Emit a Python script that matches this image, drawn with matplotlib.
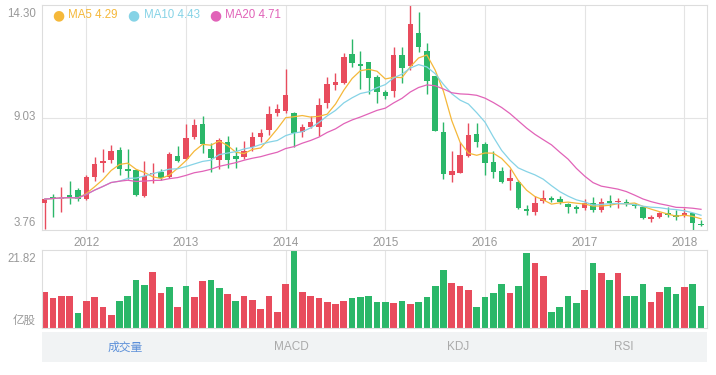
import matplotlib
matplotlib.use('Agg')
import matplotlib.pyplot as plt
import numpy as np
import pandas as pd

plt.rcParams['font.family'] = ['Liberation Sans', 'Noto Sans CJK SC', 'DejaVu Sans']

# ---------------- data ----------------
months = [str(p) for p in pd.period_range('2011-08', '2018-03', freq='M')]

opens = [5.01, 5.32, 5.20, 5.38, 5.63, 5.21, 6.23, 6.88, 7.04, 7.49,
         6.62, 6.58, 5.37, 6.38, 6.49, 6.26, 7.23, 7.07, 8.10, 8.74,
         7.55, 7.04, 7.87, 7.24, 7.19, 7.63, 8.10, 8.44, 9.23, 9.33,
         9.25, 8.37, 8.60, 8.60, 9.72, 10.55, 10.66, 12.00, 11.54, 11.62,
         10.94, 10.21, 10.27, 11.96, 11.44, 12.97, 12.16, 10.97, 8.34, 6.34,
         6.44, 7.23, 8.26, 7.79, 6.96, 6.54, 6.07, 6.02, 4.74, 4.62,
         5.13, 5.24, 5.20, 4.98, 4.82, 4.78, 5.04, 4.70, 5.13, 5.07,
         5.09, 4.96, 4.82, 4.29, 4.38, 4.54, 4.48, 4.46, 4.54, 4.04]

closes = [5.21, 5.26, 5.32, 5.32, 5.20, 6.23, 6.85, 7.01, 7.46, 6.60,
          6.54, 5.40, 6.28, 6.44, 6.21, 7.32, 7.01, 8.06, 8.68, 7.79,
          7.12, 7.98, 7.04, 7.09, 7.47, 8.10, 8.32, 9.19, 9.43, 10.07,
          8.32, 8.60, 8.83, 9.60, 10.58, 10.68, 11.85, 11.57, 11.44, 10.89,
          10.24, 10.04, 11.96, 11.36, 13.41, 12.32, 10.75, 8.41, 6.38, 6.54,
          7.26, 8.22, 7.90, 6.92, 6.49, 6.02, 6.18, 4.78, 4.66, 5.01,
          5.24, 5.17, 5.09, 4.82, 4.76, 5.04, 4.70, 5.09, 5.01, 5.13,
          5.01, 4.88, 4.31, 4.35, 4.54, 4.46, 4.38, 4.54, 4.07, 3.98]

highs = [5.25, 5.43, 5.79, 6.06, 5.71, 6.34, 7.19, 7.56, 7.74, 7.66,
         7.56, 6.62, 6.99, 6.88, 6.60, 7.43, 7.69, 8.73, 8.95, 9.10,
         7.82, 8.06, 8.16, 7.66, 7.93, 8.37, 8.48, 9.57, 9.66, 11.29,
         9.30, 8.73, 9.10, 9.93, 10.94, 11.13, 12.07, 12.69, 12.16, 11.64,
         11.02, 10.32, 12.35, 12.35, 14.30, 13.96, 12.53, 10.97, 8.83, 7.47,
         7.90, 8.79, 8.76, 7.88, 7.47, 6.69, 6.60, 6.10, 4.93, 5.35,
         5.63, 5.35, 5.35, 5.01, 4.93, 5.20, 5.29, 5.24, 5.40, 5.24,
         5.20, 5.04, 4.88, 4.46, 4.62, 4.85, 4.70, 4.78, 4.57, 4.23]

lows = [3.79, 4.38, 4.62, 4.98, 5.13, 5.17, 6.06, 6.49, 6.88, 6.34,
        6.15, 5.37, 5.32, 5.95, 6.10, 6.18, 6.96, 7.04, 8.01, 7.37,
        6.49, 6.60, 6.65, 6.65, 7.07, 7.47, 7.90, 8.21, 9.10, 9.23,
        7.66, 8.10, 8.52, 8.16, 9.46, 10.32, 10.60, 11.41, 10.35, 10.12,
        9.69, 9.90, 10.00, 10.63, 11.27, 12.11, 10.13, 8.41, 6.13, 6.02,
        6.42, 7.19, 7.66, 6.34, 6.18, 5.98, 5.63, 4.73, 4.46, 4.46,
        5.01, 5.09, 4.98, 4.57, 4.57, 4.70, 4.62, 4.62, 4.82, 4.78,
        4.88, 4.78, 4.26, 4.15, 4.31, 4.35, 4.23, 4.38, 3.76, 3.95]

volumes = [10.03, 8.36, 9.00, 8.82, 4.18, 7.61, 8.54, 5.94, 3.71, 7.61,
           8.82, 13.46, 12.07, 15.60, 9.66, 11.51, 5.76, 11.79, 8.54, 13.18,
           13.46, 11.05, 9.56, 7.43, 8.82, 7.71, 5.29, 8.82, 4.55, 12.26,
           21.82, 10.03, 8.91, 8.36, 7.15, 6.78, 7.61, 8.36, 8.73, 8.82,
           7.34, 7.34, 7.06, 7.61, 6.59, 7.34, 8.64, 11.70, 16.25, 12.53,
           11.70, 10.68, 5.94, 8.54, 9.75, 12.26, 9.66, 11.70, 21.08, 18.11,
           14.67, 4.36, 5.94, 9.00, 7.06, 10.58, 18.11, 15.41, 13.46, 15.41,
           9.00, 9.00, 12.35, 7.24, 10.12, 11.51, 9.38, 11.51, 12.35, 6.22]

volume_up = list("rrrrgrrrrg" "gggrrgrgrr" "ggrgrrrrrr"
                 "grrrrrrggg" "ggrgrggggr" "rrggggrggr"
                 "rggggrgrgr" "gggrrggrgg")

year_labels = ['2012', '2013', '2014', '2015', '2016', '2017', '2018']
price_labels = ['14.30', '9.03', '3.76']
volume_labels = ['21.82', '亿股']
legend_labels = ['MA5 4.29', 'MA10 4.43', 'MA20 4.71']
ma_windows = [5, 10, 20]
tab_labels = ['成交量', 'MACD', 'KDJ', 'RSI']

# ---------------- style ----------------
RED = '#e84c5d'
GREEN = '#2bb769'
MA_COLORS = ['#f5b83a', '#86d3e6', '#e163b8']
GRID = '#e4e4e4'
LABEL = '#999999'
CJK = ['Noto Sans CJK SC', 'DejaVu Sans']

W, H = 716, 375
fig = plt.figure(figsize=(W / 100, H / 100), dpi=100)


def fx(px):
    return px / W


def fy(py):
    return 1 - py / H


L, R = 42, 707
ax = fig.add_axes([fx(L), fy(230), (R - L) / W, (230 - 5) / H])
axv = fig.add_axes([fx(L), fy(328), (R - L) / W, (328 - 250) / H])
axt = fig.add_axes([fx(L), fy(362), (R - L) / W, (362 - 332) / H])

x = np.arange(len(months))
o = np.array(opens)
c = np.array(closes)
h = np.array(highs)
lo = np.array(lows)
up = c >= o
ccol = np.where(up, RED, GREEN)

pmin, pmax = float(min(lows)), float(max(highs))
pmid = (pmin + pmax) / 2

year_pos = [i for i, m in enumerate(months) if m.endswith('-01')]

for a in (ax, axv):
    for s in a.spines.values():
        s.set_color('#dddddd')
        s.set_linewidth(0.8)
    for p in year_pos:
        a.axvline(p, color=GRID, lw=0.8, zorder=0)
    a.set_xlim(-0.33, len(months) - 0.28)
    a.set_yticks([])
    a.tick_params(length=0)

ax.axhline(pmid, color=GRID, lw=0.8, zorder=0)
ax.set_ylim(pmin, pmax)

# candles
ax.vlines(x, lo, h, colors=ccol, lw=1.0, zorder=2)
body_bot = np.minimum(o, c)
body_h = np.maximum(np.abs(c - o), 0.05)
ax.bar(x, body_h, bottom=body_bot, width=0.66, color=ccol, linewidth=0, zorder=3)

# moving averages
s = pd.Series(closes)
for w, col in zip(ma_windows, MA_COLORS):
    ax.plot(x, s.rolling(w, min_periods=1).mean(), color=col, lw=0.9, zorder=4)

ax.set_xticks(year_pos)
ax.set_xticklabels(year_labels, color=LABEL, fontsize=8.5)
ax.tick_params(axis='x', length=0, pad=5)

# price labels
tr = ax.get_yaxis_transform()
ax.annotate(price_labels[0], xy=(0, pmax), xycoords=tr, xytext=(-4.5, -2.5),
            textcoords='offset points', ha='right', va='top', color=LABEL, fontsize=8.3)
ax.annotate(price_labels[1], xy=(0, pmid), xycoords=tr, xytext=(-4.5, 0),
            textcoords='offset points', ha='right', va='center', color=LABEL, fontsize=8.3)
ax.annotate(price_labels[2], xy=(0, pmin), xycoords=tr, xytext=(-4.5, 0.5),
            textcoords='offset points', ha='right', va='bottom', color=LABEL, fontsize=8.3)

# legend
leg_circle_x = [58, 133.5, 215]
for lbl, col, cx in zip(legend_labels, MA_COLORS, leg_circle_x):
    fig.text(fx(cx), fy(15), '\u25cf', color=col, fontsize=10, ha='center', va='center',
             family=['DejaVu Sans'])
    fig.text(fx(cx + 10), fy(15), lbl, color=col, fontsize=8.3, ha='left', va='center')

# volume
vcol = [RED if v == 'r' else GREEN for v in volume_up]
vmax = max(volumes)
axv.bar(x, volumes, width=0.8, color=vcol, linewidth=0, zorder=2)
axv.set_ylim(0, vmax)
axv.set_xticks([])
trv = axv.get_yaxis_transform()
axv.annotate(volume_labels[0], xy=(0, vmax), xycoords=trv, xytext=(-4.5, -2.5),
             textcoords='offset points', ha='right', va='top', color=LABEL, fontsize=8.3)
axv.annotate(volume_labels[1], xy=(0, 0), xycoords=trv, xytext=(-4.5, 0.5),
             textcoords='offset points', ha='right', va='bottom', color=LABEL, fontsize=8.3,
             family=CJK)

# tabs
axt.set_facecolor('#f1f3f4')
for sp in axt.spines.values():
    sp.set_visible(False)
axt.set_xticks([])
axt.set_yticks([])
axt.set_xlim(0, len(tab_labels))
axt.set_ylim(0, 1)
for i, t in enumerate(tab_labels):
    axt.text(i + 0.5, 0.5, t, ha='center', va='center', fontsize=8.5,
             color='#5b8fd9' if i == 0 else '#aaaaaa',
             family=CJK if i == 0 else ['Liberation Sans', 'DejaVu Sans'])

fig.savefig('out.png', dpi=100)
